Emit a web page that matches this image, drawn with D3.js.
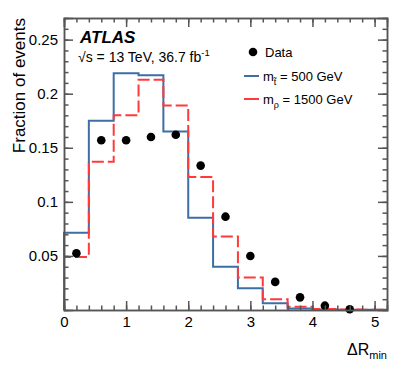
<!DOCTYPE html>
<html>
<head>
<meta charset="utf-8">
<script src="https://cdn.jsdelivr.net/npm/d3@7"></script>
<style>
  body { margin: 0; background: #fff; }
  text { font-family: "Liberation Sans", Arial, sans-serif; fill: #000; }
</style>
</head>
<body>
<div id="chart"></div>
<script>
// bin edges in dR_min, width 0.4
var binEdges = [0, 0.4, 0.8, 1.2, 1.6, 2.0, 2.4, 2.8, 3.2, 3.6, 4.0, 4.4, 4.8, 5.2];
var sigT500 = [0.0715, 0.175, 0.219, 0.217, 0.165, 0.0854, 0.040, 0.020, 0.0062, 0.0015, 0.0005, 0.0003, 0.0002];
var sigRho1500 = [0.049, 0.137, 0.180, 0.213, 0.189, 0.123, 0.068, 0.030, 0.010, 0.003, 0.001, 0.0005, 0.0003];
var dataX = [0.2, 0.6, 1.0, 1.4, 1.8, 2.2, 2.6, 3.0, 3.4, 3.8, 4.2, 4.6];
var dataY = [0.0524, 0.157, 0.157, 0.160, 0.162, 0.1335, 0.0863, 0.050, 0.026, 0.0117, 0.004, 0.0007];
var yTicks = [0.05, 0.1, 0.15, 0.2, 0.25];
var xTicks = [0, 1, 2, 3, 4, 5];

var W = 407, H = 369;
var margin = {left: 64, right: 20, top: 18, bottom: 59};
var w = W - margin.left - margin.right, h = H - margin.top - margin.bottom;

var svg = d3.select("#chart")
  .append("svg")
    .attr("width", W)
    .attr("height", H);

var g = svg.append("g").attr("transform", "translate(" + margin.left + "," + margin.top + ")");

var x = d3.scaleLinear().domain([0, 5.2]).range([0, w]);
var y = d3.scaleLinear().domain([0, 0.27]).range([h, 0]);

// step path for a histogram
function stepPath(vals) {
  var p = d3.path();
  p.moveTo(x(binEdges[0]), y(0));
  vals.forEach(function(v, i) {
    p.lineTo(x(binEdges[i]), y(v));
    p.lineTo(x(binEdges[i + 1]), y(v));
  });
  p.lineTo(x(binEdges[binEdges.length - 1]), y(0));
  return p.toString();
}

g.append("path")
  .attr("d", stepPath(sigT500))
  .attr("fill", "none")
  .attr("stroke", "#3d6fa6")
  .attr("stroke-width", 2);

g.append("path")
  .attr("d", stepPath(sigRho1500))
  .attr("fill", "none")
  .attr("stroke", "#ff3a3a")
  .attr("stroke-width", 2)
  .attr("stroke-dasharray", "12,4");

g.selectAll(".pt")
  .data(dataX)
  .enter().append("circle")
    .attr("cx", function(d) { return x(d); })
    .attr("cy", function(d, i) { return y(dataY[i]); })
    .attr("r", 4.3)
    .attr("fill", "#000");

// axes, ticks pointing inward, ROOT style on all four sides
var axisCol = "#555";
var yMinor = d3.range(0.01, 0.27, 0.01);
var xMinor = d3.range(0.2, 5.2, 0.2);

function addAxis(axis, tf) {
  var a = g.append("g").attr("transform", tf).call(axis);
  a.select(".domain").attr("stroke", axisCol).attr("stroke-width", 1.5);
  a.selectAll(".tick line").attr("stroke", axisCol).attr("stroke-width", 1.5);
  return a;
}

var yl = addAxis(d3.axisLeft(y).tickValues(yTicks).tickSize(-9).tickPadding(6).tickFormat(d3.format("")), "");
yl.selectAll("text").attr("font-size", 15).attr("font-family", "Liberation Sans, Arial, sans-serif");
addAxis(d3.axisLeft(y).tickValues(yMinor).tickSize(-4.5).tickFormat(""), "");
addAxis(d3.axisRight(y).tickValues(yTicks).tickSize(-9).tickFormat(""), "translate(" + w + ",0)");
addAxis(d3.axisRight(y).tickValues(yMinor).tickSize(-4.5).tickFormat(""), "translate(" + w + ",0)");

var xb = addAxis(d3.axisBottom(x).tickValues(xTicks).tickSize(-9).tickPadding(6).tickFormat(d3.format("d")), "translate(0," + h + ")");
xb.selectAll("text").attr("font-size", 15).attr("font-family", "Liberation Sans, Arial, sans-serif");
addAxis(d3.axisBottom(x).tickValues(xMinor).tickSize(-4.5).tickFormat(""), "translate(0," + h + ")");
addAxis(d3.axisTop(x).tickValues(xTicks).tickSize(-9).tickFormat(""), "");
addAxis(d3.axisTop(x).tickValues(xMinor).tickSize(-4.5).tickFormat(""), "");

// axis titles
svg.append("text")
  .attr("transform", "translate(25," + margin.top + ") rotate(-90)")
  .attr("text-anchor", "end")
  .attr("font-size", 17)
  .text("Fraction of events");

var xt = svg.append("text")
  .attr("x", 387)
  .attr("y", 355)
  .attr("text-anchor", "end")
  .attr("font-size", 16);
xt.append("tspan").text("ΔR");
xt.append("tspan").attr("font-size", 11).attr("dy", 4).text("min");

// labels
svg.append("text")
  .attr("x", 80).attr("y", 43)
  .attr("font-size", 17)
  .attr("font-weight", "bold")
  .attr("font-style", "italic")
  .text("ATLAS");

var lumi = svg.append("text")
  .attr("x", 78).attr("y", 62)
  .attr("font-size", 14);
lumi.append("tspan").text("√s = 13 TeV, 36.7 fb");
lumi.append("tspan").attr("font-size", 9.5).attr("dy", -6).text("-1");

// legend
var leg = svg.append("g");
leg.append("circle").attr("cx", 253).attr("cy", 52).attr("r", 4.3).attr("fill", "#000");
leg.append("text").attr("x", 265).attr("y", 57).attr("font-size", 13).text("Data");

leg.append("line").attr("x1", 244).attr("x2", 259).attr("y1", 76).attr("y2", 76)
  .attr("stroke", "#3d6fa6").attr("stroke-width", 2);
var l2 = leg.append("text").attr("x", 263).attr("y", 81).attr("font-size", 13);
l2.append("tspan").text("m");
l2.append("tspan").attr("font-size", 9).attr("dy", 4).text("t\u0303");
l2.append("tspan").attr("dy", -4).text(" = 500 GeV");

leg.append("line").attr("x1", 244).attr("x2", 259).attr("y1", 99).attr("y2", 99)
  .attr("stroke", "#ff3a3a").attr("stroke-width", 2);
var l3 = leg.append("text").attr("x", 263).attr("y", 104).attr("font-size", 13);
l3.append("tspan").text("m");
l3.append("tspan").attr("font-size", 9).attr("dy", 4).text("ρ");
l3.append("tspan").attr("dy", -4).text(" = 1500 GeV");
</script>
</body>
</html>
